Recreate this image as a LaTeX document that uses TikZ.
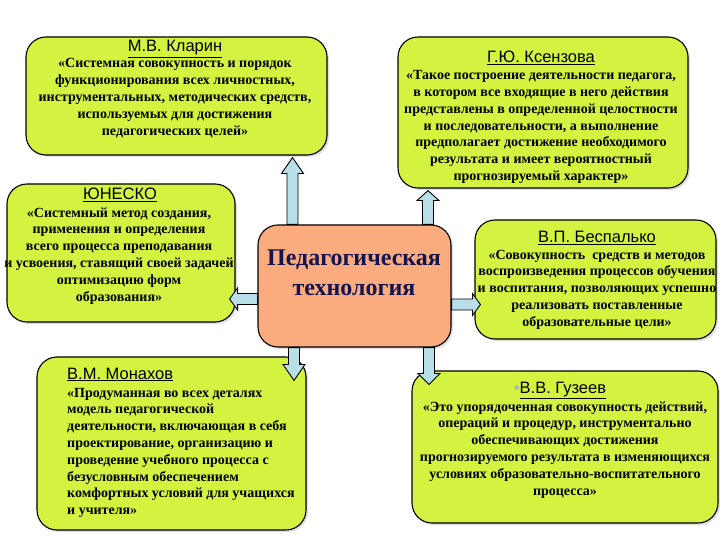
\documentclass[tikz,border=0pt]{standalone}
\usepackage{fontspec}
\setmainfont{Liberation Serif}
\newfontfamily\headfont{Liberation Sans}
\usetikzlibrary{calc,shadows}
\definecolor{boxfill}{RGB}{212,243,64}
\definecolor{centerfill}{RGB}{250,172,126}
\definecolor{arrowfill}{RGB}{184,222,232}
\definecolor{navy}{RGB}{22,20,78}
\newcommand\blockarrow[3]{%
  \draw[barrow] let \p1=(#1), \p2=(#2), \n1={atan2(\y2-\y1,\x2-\x1)}, \n2={veclen(\x2-\x1,\y2-\y1)} in
    [shift={(\p1)}, rotate=\n1]
    (0pt,-5.5pt) -- ({\n2*1pt-#3},-5.5pt) -- ({\n2*1pt-#3},-11pt) -- ({\n2*1pt},0pt)
    -- ({\n2*1pt-#3},11pt) -- ({\n2*1pt-#3},5.5pt) -- (0pt,5.5pt) -- cycle;}
\begin{document}
\begin{tikzpicture}[x=1pt,y=-1pt,
  ybox/.style={draw=black, line width=1.1pt, fill=boxfill, rounded corners=20pt,
    drop shadow={shadow xshift=2pt, shadow yshift=-2pt, opacity=0.25}},
  cbox/.style={draw=black, line width=1.1pt, fill=centerfill, rounded corners=20pt,
    drop shadow={shadow xshift=2pt, shadow yshift=-2pt, opacity=0.25}},
  barrow/.style={draw=black, line width=0.9pt, fill=arrowfill, line join=miter},
  head/.style={font=\headfont\fontsize{16.5}{18}\selectfont, anchor=base, inner sep=0pt},
  body/.style={font=\bfseries\fontsize{14}{16.8}\selectfont, align=center, anchor=base, inner sep=0pt},
  centertext/.style={font=\bfseries\fontsize{24}{30}\selectfont, text=navy, align=center, anchor=base, inner sep=0pt}
]
\useasboundingbox (0,0) rectangle (720,540);
% boxes
\node[ybox, minimum width=301pt, minimum height=118pt] (k) at (176.5,96) {};
\node[ybox, minimum width=290pt, minimum height=151pt] (ks) at (543,112.5) {};
\node[ybox, minimum width=228pt, minimum height=138pt] (u) at (121,253) {};
\node[cbox, minimum width=193pt, minimum height=122pt] (c) at (354.5,286) {};
\node[ybox, minimum width=241pt, minimum height=119pt] (b) at (595.5,279.5) {};
\node[ybox, minimum width=269pt, minimum height=173pt] (m) at (171.5,443.5) {};
\node[ybox, minimum width=306pt, minimum height=152pt] (g) at (565,447) {};
% texts (anchor=base refers to the last line of a multi-line node)
\node[head] (kh) at (175,52) {\underline{М.В. Кларин}};
\node[body] (kt) at (175,135.2) {«Системная совокупность и порядок\\функционирования всех личностных,\\инструментальных, методических средств,\\используемых для достижения\\педагогических целей»};
\node[head] (ksh) at (541,63) {\underline{Г.Ю. Ксензова}};
\node[body] (kst) at (541,180.5) {«Такое построение деятельности педагога,\\в котором все входящие в него действия\\представлены в определенной целостности\\и последовательности, а выполнение\\предполагает достижение необходимого\\результата и имеет вероятностный\\прогнозируемый характер»};
\node[head] (uh) at (120,200) {\underline{ЮНЕСКО}};
\node[body] (ut) at (119,301) {«Системный метод создания,\\применения и определения\\всего процесса преподавания\\и усвоения, ставящий своей задачей\\оптимизацию форм\\образования»};
\node[centertext] (ct) at (354,295.5) {Педагогическая\\технология};
\node[head] (bh) at (597,243) {\underline{В.П. Беспалько}};
\node[body] (bt) at (597,326.2) {«Совокупность\ \ средств и методов\\воспроизведения процессов обучения\\и воспитания, позволяющих успешно\\реализовать поставленные\\образовательные цели»};
\node[head, anchor=base west] (mh) at (67,379) {\underline{В.М. Монахов}};
\node[body, align=left, anchor=base west] (mt) at (67,514.6) {«Продуманная во всех деталях\\модель педагогической\\деятельности, включающая в себя\\проектирование, организацию и\\проведение учебного процесса с\\безусловным обеспечением\\комфортных условий для учащихся\\и учителя»};
\node[head] (gh) at (560,393) {{\color{gray!60}\textbullet}\underline{В.В. Гузеев}};
\node[body] (gt) at (565,495) {«Это упорядоченная совокупность действий,\\операций и процедур, инструментально\\обеспечивающих достижения\\прогнозируемого результата в изменяющихся\\условиях образовательно-воспитательного\\процесса»};
% helper coordinates for arrows
\coordinate (xa) at (292.5,0);
\coordinate (xb) at (428,0);
\coordinate (ya) at (0,299);
\coordinate (yb) at (0,304.5);
\coordinate (xc) at (294,0);
\coordinate (xd) at (429,0);
\coordinate (a1s) at (c.north -| xa);
\coordinate (a1e) at ([yshift=-2pt]k.south -| xa);
\coordinate (a2s) at (c.north -| xb);
\coordinate (a2e) at ([yshift=-2pt]ks.south -| xb);
\coordinate (a3s) at (c.west |- ya);
\coordinate (a3e) at ([xshift=-6pt]u.east |- ya);
\coordinate (a4s) at (c.east |- yb);
\coordinate (a4e) at ([xshift=6pt]b.west |- yb);
\coordinate (a5s) at (c.south -| xc);
\coordinate (a5e) at ([yshift=-24pt]m.north -| xc);
\coordinate (a6s) at (c.south -| xd);
\coordinate (a6e) at ([yshift=-14pt]g.north -| xd);
\blockarrow{a1s}{a1e}{16pt}
\blockarrow{a2s}{a2e}{10pt}
\blockarrow{a3s}{a3e}{8pt}
\blockarrow{a4s}{a4e}{8pt}
\blockarrow{a5s}{a5e}{16pt}
\blockarrow{a6s}{a6e}{11pt}
\end{tikzpicture}
\end{document}
